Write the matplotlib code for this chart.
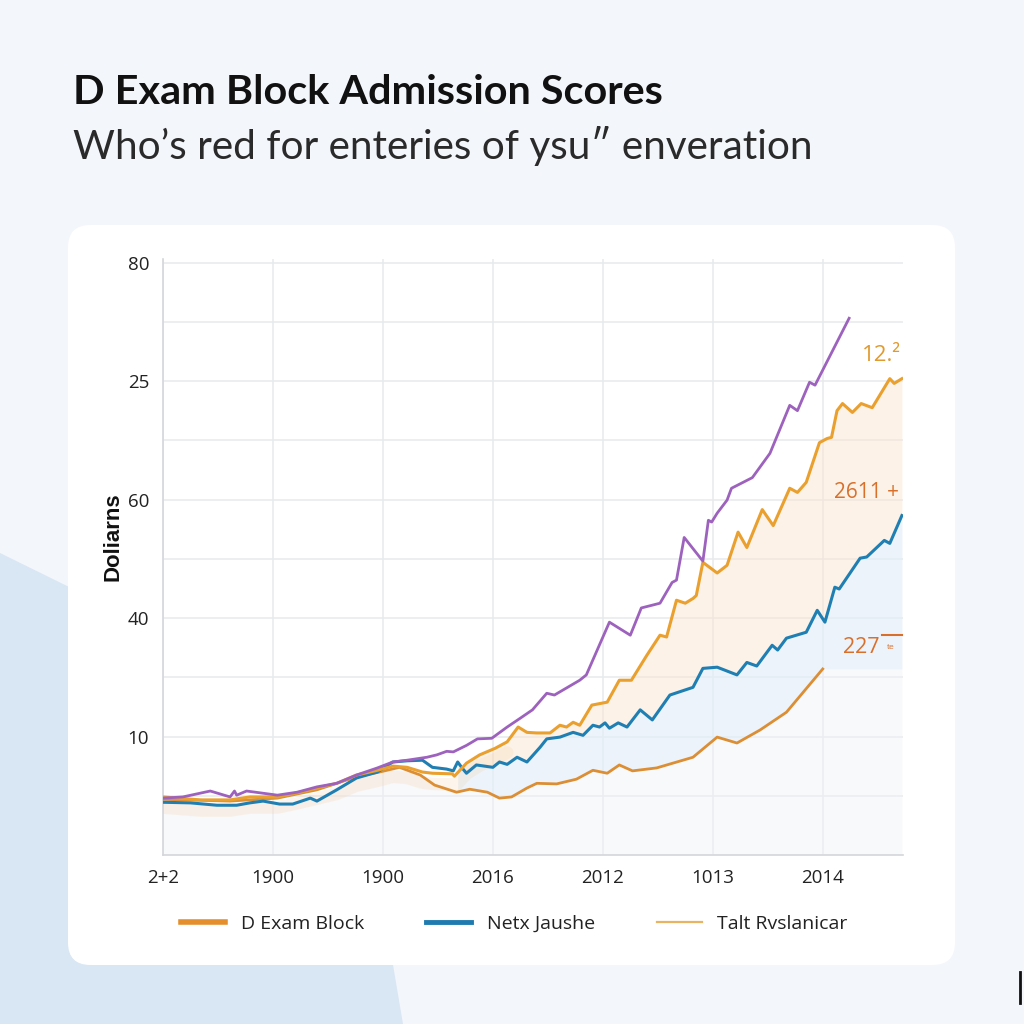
import numpy as np
import matplotlib
matplotlib.use("Agg")
import matplotlib.pyplot as plt
from matplotlib.patches import FancyBboxPatch, Polygon
from matplotlib.lines import Line2D

plt.rcParams['font.family'] = ['Open Sans', 'DejaVu Sans']

# ---------------- data ----------------
x_tick_pos = [0, 1, 2, 3, 4, 5, 6]
x_tick_labels = ["2+2", "1900", "1900", "2016", "2012", "1013", "2014"]
y_tick_pos = [20, 40, 60, 80, 100]
y_tick_labels = ["10", "40", "60", "25", "80"]

purple_x = [0.00, 0.18, 0.43, 0.61, 0.65, 0.67, 0.76, 1.04, 1.22, 1.40, 1.58, 1.76, 1.95,
            2.09, 2.22, 2.40, 2.49, 2.58, 2.64, 2.76, 2.86, 2.99, 3.13, 3.25, 3.36, 3.49,
            3.56, 3.79, 3.85, 4.06, 4.25, 4.35, 4.52, 4.63, 4.67, 4.74, 4.91, 4.96, 4.99,
            5.04, 5.13, 5.17, 5.36, 5.52, 5.70, 5.77, 5.88, 5.93, 6.24]
purple_y = [9.6, 9.8, 10.8, 9.8, 10.8, 10.1, 10.8, 10.1, 10.6, 11.5, 12.1, 13.5, 14.7,
            15.7, 16.0, 16.5, 16.9, 17.5, 17.4, 18.5, 19.6, 19.7, 21.6, 23.1, 24.5, 27.3,
            27.0, 29.5, 30.4, 39.3, 37.1, 41.7, 42.5, 46.0, 46.4, 53.6, 49.6, 56.5, 56.2,
            57.7, 59.9, 61.9, 63.7, 67.8, 75.9, 75.0, 79.8, 79.3, 90.6]

exam_x = [0.00, 0.34, 0.61, 0.79, 1.04, 1.22, 1.40, 1.58, 1.76, 1.95, 2.09, 2.22, 2.36,
          2.45, 2.63, 2.65, 2.76, 2.88, 3.02, 3.13, 3.23, 3.31, 3.40, 3.52, 3.61, 3.67,
          3.73, 3.79, 3.90, 4.04, 4.15, 4.26, 4.40, 4.52, 4.58, 4.67, 4.75, 4.82, 4.85,
          4.91, 5.04, 5.13, 5.23, 5.31, 5.45, 5.55, 5.70, 5.77, 5.85, 5.97, 6.04, 6.08,
          6.13, 6.18, 6.27, 6.35, 6.45, 6.61, 6.65, 6.72]
exam_y = [9.8, 9.3, 9.3, 9.8, 9.8, 10.5, 11.3, 12.1, 13.5, 14.3, 15.0, 14.8, 14.0,
          13.8, 13.7, 13.3, 15.5, 16.9, 18.0, 19.1, 21.6, 20.7, 20.6, 20.6, 21.9, 21.6,
          22.4, 21.9, 25.3, 25.8, 29.5, 29.5, 33.7, 37.1, 36.8, 43.0, 42.5, 43.3, 43.8,
          49.4, 47.6, 48.9, 54.5, 51.9, 58.3, 55.6, 61.9, 61.2, 62.9, 69.6, 70.3, 70.5,
          75.0, 76.2, 74.7, 76.2, 75.5, 80.4, 79.6, 80.4]

netx_x = [0.00, 0.25, 0.49, 0.67, 0.79, 0.91, 1.06, 1.18, 1.34, 1.40, 1.58, 1.76, 1.95,
          2.09, 2.22, 2.36, 2.45, 2.58, 2.64, 2.68, 2.72, 2.76, 2.85, 3.00, 3.06, 3.13,
          3.22, 3.31, 3.43, 3.49, 3.61, 3.73, 3.82, 3.91, 3.97, 4.02, 4.06, 4.14, 4.22,
          4.34, 4.45, 4.61, 4.82, 4.91, 5.04, 5.22, 5.31, 5.40, 5.54, 5.59, 5.67, 5.85,
          5.95, 6.02, 6.11, 6.15, 6.34, 6.40, 6.56, 6.61, 6.72]
netx_y = [8.9, 8.8, 8.4, 8.4, 8.8, 9.1, 8.6, 8.6, 9.6, 9.1, 11.0, 13.0, 14.0,
          15.7, 15.9, 16.0, 14.8, 14.5, 14.2, 15.7, 14.7, 13.8, 15.2, 14.8, 15.7, 15.3,
          16.5, 15.7, 18.2, 19.6, 19.9, 20.7, 20.2, 21.9, 21.6, 22.3, 21.4, 22.3, 21.6,
          24.5, 22.8, 27.0, 28.3, 31.5, 31.7, 30.4, 32.5, 31.9, 35.4, 34.6, 36.6, 37.6,
          41.3, 39.3, 45.2, 44.9, 50.1, 50.3, 53.1, 52.6, 57.3]

talt_x = [0.00, 0.61, 1.04, 1.40, 1.76, 1.97, 2.15, 2.34, 2.47, 2.67, 2.79, 2.95, 3.06,
          3.17, 3.31, 3.40, 3.58, 3.76, 3.91, 4.04, 4.15, 4.27, 4.49, 4.82, 5.04, 5.22,
          5.43, 5.67, 6.00]
talt_y = [9.4, 9.1, 9.6, 11.0, 13.2, 14.0, 14.8, 13.5, 11.8, 10.6, 11.1, 10.6, 9.6,
          9.8, 11.3, 12.1, 12.0, 12.8, 14.3, 13.8, 15.2, 14.2, 14.7, 16.5, 19.9, 18.9,
          21.1, 24.1, 31.4]

legend_labels = ["D Exam Block", "Netx Jaushe", "Talt Rvslanicar"]
title = "D Exam Block Admission Scores"
subtitle = "Who\u2019s red for enteries of ysu\u2033 enveration"
y_label = "Doliarns"

# ---------------- colours ----------------
C_PURPLE = "#9d62bd"
C_ORANGE = "#eaa02e"
C_BLUE = "#1f7fb3"
C_LOWER = "#dc8e34"
BG = "#f3f6fb"

fig = plt.figure(figsize=(10.24, 10.24), dpi=100)
fig.patch.set_facecolor(BG)

# background light-blue shape
poly = Polygon([(0, 1 - 553 / 1024), (380 / 1024, 1 - 740 / 1024), (393 / 1024, 1 - 965 / 1024),
                (403 / 1024, 0), (0, 0)], closed=True, transform=fig.transFigure,
               facecolor="#d9e6f3", edgecolor="none", zorder=0)
fig.patches.append(poly)

# white card
card = FancyBboxPatch((68 / 1024, 1 - 965 / 1024), (955 - 68) / 1024, (965 - 225) / 1024,
                      boxstyle="round,pad=0,rounding_size=0.022", transform=fig.transFigure,
                      facecolor="white", edgecolor="none", zorder=1)
fig.patches.append(card)

# small artifact at bottom right
fig.add_artist(Line2D([1020 / 1024, 1020 / 1024], [1 - 972 / 1024, 1 - 1003 / 1024],
                      transform=fig.transFigure, color="#111111", lw=2))

# titles
fig.text(73 / 1024, 1 - 92 / 1024, title, fontfamily="Lato", fontweight="bold",
         fontsize=29.8, color="#111111", va="center", ha="left")
fig.text(73 / 1024, 1 - 146 / 1024, subtitle, fontfamily="Lato", fontweight="normal",
         fontsize=29.2, color="#2a2a2a", va="center", ha="left")

# y label
fig.text(113 / 1024, 1 - 537 / 1024, y_label, rotation=90, fontweight="bold", fontsize=16,
         color="#111111", ha="center", va="center", fontfamily=["Liberation Sans", "DejaVu Sans"])

# axes
ax = fig.add_axes([163 / 1024, 1 - 855 / 1024, (903 - 163) / 1024, (855 - 259) / 1024])
ax.set_facecolor("none")
ax.set_zorder(2)
ax.set_xlim(0, 6.73)
ax.set_ylim(0, 100.6)

for s in ["top", "right"]:
    ax.spines[s].set_visible(False)
for s in ["left", "bottom"]:
    ax.spines[s].set_color("#d4d6da")
    ax.spines[s].set_linewidth(1.2)

ax.set_yticks(y_tick_pos)
ax.set_yticklabels(y_tick_labels)
ax.set_yticks(np.arange(10, 100, 20), minor=True)
ax.set_xticks(x_tick_pos)
ax.set_xticklabels(x_tick_labels)
ax.tick_params(axis="both", which="both", length=0, labelsize=13.5, colors="#222222")
ax.tick_params(axis="y", pad=10)
ax.tick_params(axis="x", pad=10)
ax.grid(True, which="both", color="#e8e9ec", lw=1.1)
ax.set_axisbelow(True)

# fills
gx = np.linspace(2.72, 6.72, 400)
ax.fill_between(gx, np.interp(gx, netx_x, netx_y), np.interp(gx, exam_x, exam_y),
                color="#fbe6d2", alpha=0.5, lw=0, zorder=1)
gx2 = np.linspace(2.68, 6.72, 400)
ax.fill_between(gx2, np.interp(gx2, talt_x, talt_y), np.interp(gx2, netx_x, netx_y),
                color="#e3eef8", alpha=0.65, lw=0, zorder=1)
gx3 = np.linspace(0, 6.72, 400)
ax.fill_between(gx3, 0, np.minimum(np.interp(gx3, talt_x, talt_y), np.interp(gx3, netx_x, netx_y)),
                color="#f1f2f5", alpha=0.45, lw=0, zorder=1)

# glow under early lines
ax.plot(exam_x[:20], np.array(exam_y[:20]) - 1.8, color="#f6c792", lw=9, alpha=0.18,
        solid_capstyle="round", zorder=2)

# lines
ax.plot(talt_x, talt_y, color=C_LOWER, lw=2.0, zorder=3)
ax.plot(netx_x, netx_y, color=C_BLUE, lw=2.2, zorder=4)
ax.plot(exam_x, exam_y, color=C_ORANGE, lw=2.2, zorder=5)
ax.plot(purple_x, purple_y, color=C_PURPLE, lw=2.0, zorder=6)

# annotations
ax.text(6.53, 84.3, "12.\u00b2", color="#e09a2e", fontsize=16, ha="center", va="center",
        clip_on=False, zorder=7)
ax.text(6.40, 61.2, "2611 +", color="#d8702c", fontsize=15, ha="center", va="center",
        clip_on=False, zorder=7)
ax.text(6.18, 35.1, "227", color="#d8702c", fontsize=15.5, ha="left", va="center",
        clip_on=False, zorder=7)
ax.text(6.62, 35.1, "te", color="#d8702c", fontsize=6, ha="center", va="center",
        clip_on=False, zorder=7)
ax.plot([6.54, 6.72], [37.1, 37.1], color="#d8702c", lw=1.5, zorder=7, clip_on=False)

# legend
handles = [Line2D([], [], color="#e58f2c", lw=4),
           Line2D([], [], color="#1f7ab0", lw=3.5),
           Line2D([], [], color="#e9b461", lw=1.6)]
leg = fig.legend(handles, legend_labels, loc="center left", bbox_to_anchor=(163 / 1024, 1 - 924 / 1024),
                 ncol=3, frameon=False, fontsize=14, handlelength=2.3, handletextpad=0.8,
                 columnspacing=3.2, labelcolor="#222222")

fig.savefig("out.png", dpi=100, facecolor=fig.get_facecolor())
